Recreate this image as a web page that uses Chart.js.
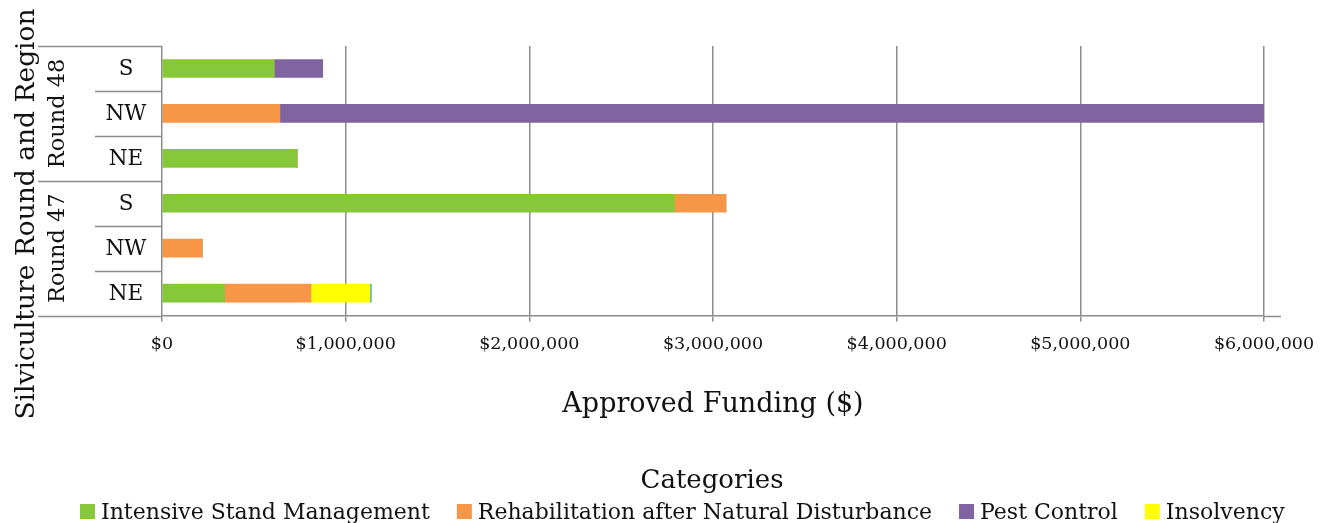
<!DOCTYPE html>
<html>
<head>
<meta charset="utf-8">
<script src="https://cdn.jsdelivr.net/npm/chart.js@4/dist/chart.umd.min.js"></script>
<style>
  html, body { margin: 0; padding: 0; background: #ffffff; }
  #wrap { width: 1327px; height: 523px; position: relative; }
</style>
</head>
<body>
<div id="wrap"><canvas id="c" width="1327" height="523"></canvas></div>
<script>
// ---- Data (top row to bottom row) ----
const regions = ['S', 'NW', 'NE', 'S', 'NW', 'NE'];
const rounds = ['Round 48', 'Round 48', 'Round 48', 'Round 47', 'Round 47', 'Round 47'];
const categoryLabels = ['Round 48 S', 'Round 48 NW', 'Round 48 NE', 'Round 47 S', 'Round 47 NW', 'Round 47 NE'];

const intensiveStandManagement = [610000, 0, 735000, 2790000, 0, 341000];
const rehabilitation = [0, 642000, 0, 280000, 218000, 469000];
const pestControl = [265000, 5358000, 0, 0, 0, 0];
const insolvency = [0, 0, 0, 0, 0, 322000];
const other = [0, 0, 0, 0, 0, 8000];

const xTickMin = 0;
const xTickMax = 6000000;
const xTickStep = 1000000;

const FONT = "'DejaVu Serif', 'Liberation Serif', serif";
const GRID = '#8c8c8c';
const TEXT = '#111111';

const categoryAxisPlugin = {
  id: 'categoryAxis',
  afterDraw(chart) {
    const ctx = chart.ctx;
    const y = chart.scales.y;
    const area = chart.chartArea;
    const n = categoryLabels.length;
    const step = n > 1 ? (y.getPixelForValue(1) - y.getPixelForValue(0)) : 45;
    const bounds = [];
    for (let i = 0; i < n; i++) bounds.push(y.getPixelForValue(i) - step / 2);
    bounds.push(y.getPixelForValue(n - 1) + step / 2);

    const outerX = 38, innerX = 95, axisX = area.left;
    ctx.save();
    ctx.strokeStyle = GRID;
    ctx.lineWidth = 1.5;
    for (let i = 0; i <= n; i++) {
      const yy = Math.round(bounds[i]) + 0.5;
      const isGroupEdge = (i === 0 || i === n || rounds[i] !== rounds[i - 1]);
      ctx.beginPath();
      ctx.moveTo(isGroupEdge ? outerX : innerX, yy);
      ctx.lineTo(axisX, yy);
      ctx.stroke();
    }
    // x axis line continues a little past the last tick
    ctx.beginPath();
    ctx.moveTo(area.right, Math.round(area.bottom) + 0.5);
    ctx.lineTo(area.right + 17, Math.round(area.bottom) + 0.5);
    ctx.stroke();

    // region labels
    ctx.fillStyle = TEXT;
    ctx.textAlign = 'center';
    ctx.textBaseline = 'middle';
    ctx.font = '21.5px ' + FONT;
    for (let i = 0; i < n; i++) {
      ctx.fillText(regions[i], 126, y.getPixelForValue(i) + 1);
    }
    // round labels (rotated)
    ctx.font = '22.5px ' + FONT;
    let start = 0;
    for (let i = 1; i <= n; i++) {
      if (i === n || rounds[i] !== rounds[start]) {
        const cy = (bounds[start] + bounds[i]) / 2;
        ctx.save();
        ctx.translate(58, cy);
        ctx.rotate(-Math.PI / 2);
        ctx.fillText(rounds[start], 0, 0);
        ctx.restore();
        start = i;
      }
    }
    // y axis title
    ctx.font = '26.5px ' + FONT;
    ctx.save();
    ctx.translate(27, 214);
    ctx.rotate(-Math.PI / 2);
    ctx.fillText('Silviculture Round and Region', 0, 0);
    ctx.restore();

    // legend (title + one row of items)
    ctx.textAlign = 'center';
    ctx.textBaseline = 'alphabetic';
    ctx.font = '26px ' + FONT;
    ctx.fillText('Categories', 712, 488);
    ctx.font = '22px ' + FONT;
    ctx.textAlign = 'left';
    let x = 80;
    chart.data.datasets.forEach((ds) => {
      if (ds.label === 'Other') return;
      ctx.fillStyle = ds.backgroundColor;
      ctx.fillRect(x, 504, 15, 15);
      ctx.fillStyle = TEXT;
      ctx.fillText(ds.label, x + 21, 519);
      x += 21 + ctx.measureText(ds.label).width + 27;
    });
    ctx.restore();
  }
};

new Chart(document.getElementById('c'), {
  type: 'bar',
  data: {
    labels: categoryLabels,
    datasets: [
      { label: 'Intensive Stand Management', data: intensiveStandManagement, backgroundColor: '#86c83a' },
      { label: 'Rehabilitation after Natural Disturbance', data: rehabilitation, backgroundColor: '#f79646' },
      { label: 'Pest Control', data: pestControl, backgroundColor: '#8064a2' },
      { label: 'Insolvency', data: insolvency, backgroundColor: '#ffff00' },
      { label: 'Other', data: other, backgroundColor: '#4bacc6' }
    ]
  },
  options: {
    indexAxis: 'y',
    responsive: false,
    animation: false,
    devicePixelRatio: 1,
    datasets: { bar: { barThickness: 18, borderWidth: 0 } },
    layout: { padding: { left: 162, right: 63, top: 46, bottom: 102 } },
    scales: {
      x: {
        stacked: true,
        min: xTickMin,
        max: xTickMax,
        ticks: {
          stepSize: xTickStep,
          color: TEXT,
          font: { family: FONT, size: 17.5 },
          padding: 12,
          callback: (v) => '$' + Number(v).toLocaleString('en-US')
        },
        grid: { color: GRID, lineWidth: 1.5, tickLength: 6, drawOnChartArea: true },
        border: { display: true, color: GRID, width: 1.5 },
        title: {
          display: true,
          text: 'Approved Funding ($)',
          color: TEXT,
          font: { family: FONT, size: 27 },
          padding: { top: 22, bottom: 0 }
        }
      },
      y: {
        stacked: true,
        display: false
      }
    },
    plugins: {
      legend: { display: false },
      tooltip: { enabled: false }
    }
  },
  plugins: [categoryAxisPlugin]
});
</script>
</body>
</html>
